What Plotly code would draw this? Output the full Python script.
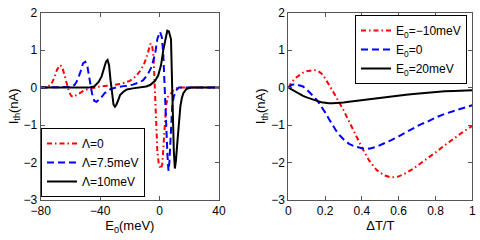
import plotly.graph_objects as go

# ---- left panel: I_th vs E0 ----
E_red = [-80, -76, -73, -71, -69, -67, -65.5, -64, -62.5, -61, -59.5, -58, -56, -53, -50, -46, -40, -33, -26, -20, -16, -13, -10.5, -8.5, -7, -6, -5, -4, -3.2, -2.5, -1.5, -0.5, 0.8, 1.8, 2.5, 3.5, 4.5, 5.5, 7, 9, 11, 13, 20, 40]
I_red = [0, 0.01, 0.08, 0.25, 0.48, 0.6, 0.55, 0.35, 0.1, -0.1, -0.22, -0.25, -0.2, -0.12, -0.06, -0.02, 0.03, 0.06, 0.1, 0.18, 0.3, 0.45, 0.62, 0.85, 1.08, 1.18, 1.12, 0.8, 0.0, -0.9, -1.7, -2.05, -2.17, -2.05, -1.6, -0.9, -0.45, -0.25, -0.2, -0.08, -0.02, 0, 0, 0]

E_blue = [-80, -62, -59, -57, -55, -53, -51.5, -50, -48.5, -47, -45.5, -44, -42.5, -40, -37, -33, -29, -24, -18, -13, -11, -8, -5.3, -3, -1.5, 0.3, 1.5, 2.5, 3.5, 4.5, 5.3, 6, 6.6, 7.5, 8.5, 9.5, 11, 13, 16, 40]
I_blue = [0, 0, 0.02, 0.08, 0.22, 0.45, 0.65, 0.69, 0.55, 0.2, -0.15, -0.35, -0.38, -0.3, -0.15, -0.04, 0.01, 0.04, 0.08, 0.15, 0.2, 0.35, 0.56, 0.9, 1.3, 1.49, 1.35, 0.9, 0.1, -1.0, -1.8, -2.22, -2.0, -1.2, -0.5, -0.25, -0.08, 0, 0, 0]

E_black = [-80, -48, -44, -41, -39, -37.5, -36, -35, -34, -33, -32, -31, -30, -29, -27.5, -26.6, -24, -22, -18, -13, -9, -6.4, -3, -0.9, 1, 2.5, 4, 5.2, 6.3, 7.7, 8.3, 8.9, 9.6, 10.3, 11, 12, 13, 14, 15, 16, 18, 21, 40]
I_black = [0, 0, 0.03, 0.15, 0.3, 0.5, 0.7, 0.74, 0.6, 0.2, -0.2, -0.45, -0.51, -0.45, -0.3, -0.2, -0.1, -0.05, -0.02, 0.0, 0.03, 0.07, 0.18, 0.33, 0.6, 1.0, 1.35, 1.52, 1.5, 1.29, 0.3, -0.8, -1.7, -2.16, -1.95, -1.45, -0.95, -0.5, -0.28, -0.15, -0.04, 0, 0]

# ---- right panel: I_th vs dT/T ----
dT = [0, 0.02, 0.04, 0.06, 0.08, 0.1, 0.12, 0.14, 0.16, 0.18, 0.2, 0.22, 0.24, 0.26, 0.28, 0.3, 0.33, 0.36, 0.4, 0.44, 0.48, 0.52, 0.56, 0.6, 0.64, 0.68, 0.72, 0.76, 0.8, 0.85, 0.9, 0.95, 1.0]
I_m10 = [0, 0.16, 0.26, 0.34, 0.4, 0.44, 0.46, 0.47, 0.45, 0.38, 0.25, 0.1, -0.08, -0.25, -0.42, -0.6, -0.9, -1.2, -1.6, -1.95, -2.2, -2.34, -2.4, -2.37, -2.28, -2.16, -2.02, -1.88, -1.73, -1.54, -1.35, -1.18, -1.02]
I_0 = [0, 0.08, 0.09, 0.07, 0.03, -0.05, -0.14, -0.25, -0.36, -0.5, -0.66, -0.83, -1.0, -1.15, -1.28, -1.38, -1.5, -1.57, -1.62, -1.63, -1.58, -1.5, -1.4, -1.3, -1.19, -1.08, -0.98, -0.9, -0.8, -0.7, -0.62, -0.54, -0.47]
I_20 = [0, -0.06, -0.12, -0.17, -0.22, -0.26, -0.3, -0.33, -0.36, -0.39, -0.41, -0.42, -0.42, -0.42, -0.41, -0.4, -0.38, -0.36, -0.34, -0.31, -0.28, -0.25, -0.23, -0.21, -0.19, -0.17, -0.15, -0.13, -0.12, -0.1, -0.09, -0.08, -0.07]

left_xticks = [-80, -40, 0, 40]
right_xticks = [0, 0.2, 0.4, 0.6, 0.8, 1]
yticks = [-3, -2, -1, 0, 1, 2]

left_names = ["Λ=0", "Λ=7.5meV", "Λ=10meV"]
right_names = ["E<sub>0</sub>=−10meV", "E<sub>0</sub>=0", "E<sub>0</sub>=20meV"]

RED, BLUE, BLACK = "#ff0000", "#0000ff", "#000000"
DASHDOT = "5px,3px,1.5px,3px"
DASH = "7px,4px"

fig = go.Figure()
for x, y, name, col, dash in [
    (E_red, I_red, left_names[0], RED, DASHDOT),
    (E_blue, I_blue, left_names[1], BLUE, DASH),
    (E_black, I_black, left_names[2], BLACK, "solid"),
]:
    fig.add_trace(go.Scatter(x=x, y=y, mode="lines", name=name,
                             line=dict(color=col, width=2, dash=dash),
                             xaxis="x", yaxis="y", legend="legend"))
for y, name, col, dash in [
    (I_m10, right_names[0], RED, DASHDOT),
    (I_0, right_names[1], BLUE, DASH),
    (I_20, right_names[2], BLACK, "solid"),
]:
    fig.add_trace(go.Scatter(x=dT, y=y, mode="lines", name=name,
                             line=dict(color=col, width=2, dash=dash),
                             xaxis="x2", yaxis="y2", legend="legend2"))

axis_common = dict(showline=True, mirror="ticks", linecolor="#555", linewidth=1,
                   ticks="inside", ticklen=4, tickcolor="#555", showgrid=False,
                   zeroline=False, automargin=False,
                   tickfont=dict(size=12, color="black"))

fig.update_layout(
    width=480, height=240,
    margin=dict(l=0, r=0, t=0, b=0, autoexpand=False),
    paper_bgcolor="white", plot_bgcolor="white",
    font=dict(family="Liberation Sans, Arial, sans-serif", size=12, color="black"),
    xaxis=dict(domain=[40.7/480, 219/480], range=[-80, 40], tickvals=left_xticks,
               title=dict(text="E<sub>0</sub>(meV)", font=dict(size=13), standoff=2),
               anchor="y", **axis_common),
    yaxis=dict(domain=[40/240, 227.3/240], range=[-3, 2], tickvals=yticks,
               title=dict(text="I<sub>th</sub>(nA)", font=dict(size=13), standoff=2),
               anchor="x", **axis_common),
    xaxis2=dict(domain=[288.3/480, 472.3/480], range=[0, 1], tickvals=right_xticks,
                ticktext=["0", "0.2", "0.4", "0.6", "0.8", "1"],
                title=dict(text="ΔT/T", font=dict(size=13), standoff=2),
                anchor="y2", **axis_common),
    yaxis2=dict(domain=[40/240, 227.3/240], range=[-3, 2], tickvals=yticks,
                title=dict(text="I<sub>th</sub>(nA)", font=dict(size=13), standoff=2),
                anchor="x2", **axis_common),
    legend=dict(x=41/480, y=(240-197)/240, xanchor="left", yanchor="bottom",
                bgcolor="white", bordercolor="black", borderwidth=1,
                font=dict(size=12), tracegroupgap=0),
    legend2=dict(x=355/480, y=1-15/240, xanchor="left", yanchor="top",
                 bgcolor="white", bordercolor="black", borderwidth=1,
                 font=dict(size=12), tracegroupgap=0),
    showlegend=True,
)

fig.write_html("out.html", config={"displayModeBar": False},
               post_script="document.body.style.margin='0';document.body.style.overflow='hidden';")
